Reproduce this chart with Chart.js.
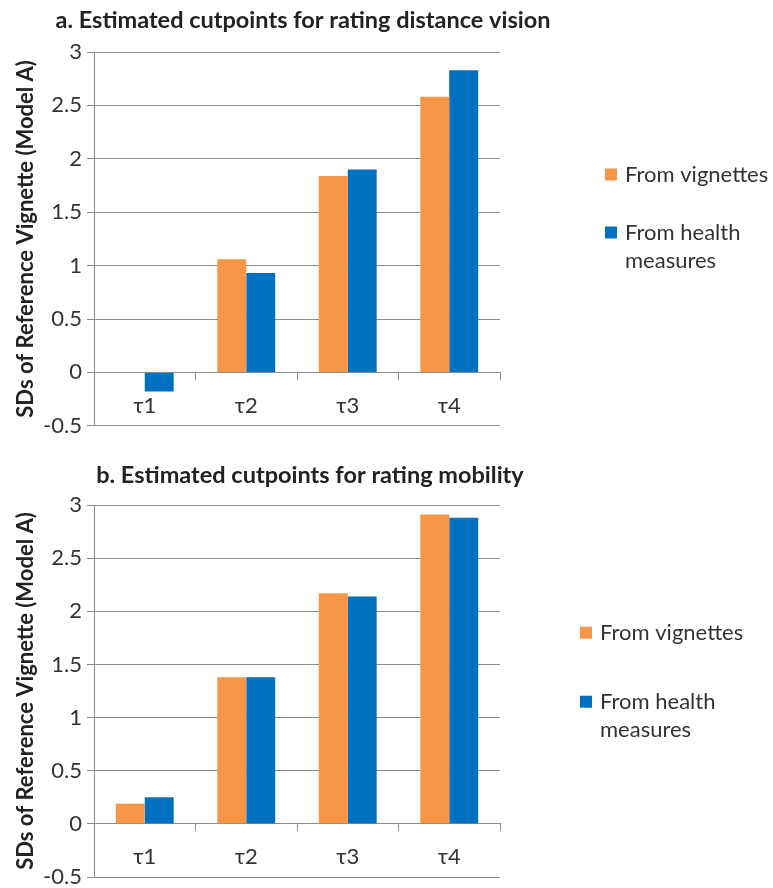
<!DOCTYPE html>
<html>
<head>
<meta charset="utf-8">
<script src="https://cdn.jsdelivr.net/npm/chart.js@4.4.1/dist/chart.umd.min.js"></script>
<style>
  html, body { margin: 0; padding: 0; background: #fff; overflow: hidden; }
  canvas { display: block; }
</style>
</head>
<body>
<canvas id="vision" width="773" height="444"></canvas>
<canvas id="mobility" width="773" height="460"></canvas>
<script>
// cutpoint estimates, in SDs of the reference vignette
const categories = ['τ1', 'τ2', 'τ3', 'τ4'];
const seriesLabels = ['From vignettes', 'From health measures'];
const seriesColors = ['#F79646', '#0070C0'];

const visionFromVignettes = [0, 1.06, 1.84, 2.58];
const visionFromHealth = [-0.18, 0.93, 1.90, 2.83];

const mobilityFromVignettes = [0.19, 1.38, 2.17, 2.91];
const mobilityFromHealth = [0.25, 1.38, 2.14, 2.88];

const yMin = -0.5, yMax = 3, yStep = 0.5;

const FONT = "Lato, 'Open Sans', sans-serif";
const GRID = '#8c8c8c';
const TEXT = '#333';

// panel heading, placed freely (wider than the plot area)
const panelTitle = {
  id: 'panelTitle',
  afterDraw(chart, args, opts) {
    const ctx = chart.ctx;
    ctx.save();
    ctx.font = 'bold 23.5px ' + FONT;
    ctx.fillStyle = '#222';
    ctx.textAlign = 'center';
    ctx.textBaseline = 'middle';
    ctx.fillText(opts.text, opts.x, opts.y);
    ctx.restore();
  }
};

// legend on the right, drawn by hand so long labels can wrap
const sideLegend = {
  id: 'sideLegend',
  afterDraw(chart, args, opts) {
    const ctx = chart.ctx;
    ctx.save();
    ctx.font = '22px ' + FONT;
    ctx.textBaseline = 'middle';
    chart.data.datasets.forEach((ds, i) => {
      const cy = opts.y[i];
      ctx.fillStyle = ds.backgroundColor;
      ctx.fillRect(opts.x, cy - 6, 12, 12);
      // word wrap
      const words = ds.label.split(' ');
      const lines = [];
      let line = '';
      words.forEach(w => {
        const test = line ? line + ' ' + w : w;
        if (ctx.measureText(test).width > opts.maxWidth && line) {
          lines.push(line);
          line = w;
        } else {
          line = test;
        }
      });
      lines.push(line);
      ctx.fillStyle = TEXT;
      lines.forEach((l, j) => ctx.fillText(l, opts.x + 20, cy + j * 28));
    });
    ctx.restore();
  }
};

function makeChart(id, a, b, pad, titleOpts, legendOpts) {
  return new Chart(document.getElementById(id), {
    type: 'bar',
    data: {
      labels: categories,
      datasets: [
        { label: seriesLabels[0], data: a, backgroundColor: seriesColors[0] },
        { label: seriesLabels[1], data: b, backgroundColor: seriesColors[1] }
      ]
    },
    plugins: [panelTitle, sideLegend],
    options: {
      responsive: false,
      animation: false,
      devicePixelRatio: 1,
      categoryPercentage: 0.57,
      barPercentage: 1,
      layout: { padding: { left: 0, right: 273, top: pad.top, bottom: pad.bottom } },
      plugins: {
        legend: { display: false },
        tooltip: { enabled: false },
        title: { display: false },
        panelTitle: titleOpts,
        sideLegend: legendOpts
      },
      scales: {
        x: {
          position: { y: 0 },
          offset: true,
          grid: { drawOnChartArea: false, drawTicks: true, tickLength: 7, color: GRID, offset: true },
          border: { display: true, color: GRID },
          ticks: { color: TEXT, font: { family: FONT, size: 22 }, padding: 13 }
        },
        y: {
          min: yMin,
          max: yMax,
          ticks: {
            stepSize: yStep,
            color: TEXT,
            font: { family: FONT, size: 22 },
            padding: 5,
            callback: v => String(v)
          },
          grid: { color: GRID, tickLength: 7 },
          border: { display: true, color: GRID },
          title: {
            display: true,
            text: 'SDs of Reference Vignette (Model A)',
            color: '#222',
            font: { family: FONT, size: 22, weight: 'bold' },
            padding: { top: 13, bottom: 0 }
          },
          afterFit(scale) { scale.width = 94; }
        }
      }
    }
  });
}

makeChart('vision', visionFromVignettes, visionFromHealth,
  { top: 52, bottom: 18 },
  { text: 'a. Estimated cutpoints for rating distance vision', x: 303, y: 20 },
  { x: 605, y: [174.5, 232.5], maxWidth: 150 });

makeChart('mobility', mobilityFromVignettes, mobilityFromHealth,
  { top: 61, bottom: 27 },
  { text: 'b. Estimated cutpoints for rating mobility', x: 310, y: 31 },
  { x: 580, y: [188.7, 257.7], maxWidth: 150 });
</script>
</body>
</html>
